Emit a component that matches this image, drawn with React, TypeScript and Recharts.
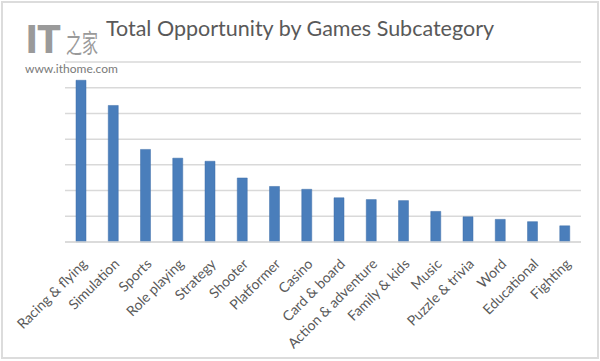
import React from 'react';
import { BarChart, Bar, XAxis, YAxis, CartesianGrid } from 'recharts';

const categories = [
  'Racing & flying',
  'Simulation',
  'Sports',
  'Role playing',
  'Strategy',
  'Shooter',
  'Platformer',
  'Casino',
  'Card & board',
  'Action & adventure',
  'Family & kids',
  'Music',
  'Puzzle & trivia',
  'Word',
  'Educational',
  'Fighting',
];

const opportunity = [6.29, 5.31, 3.6, 3.26, 3.14, 2.49, 2.16, 2.05, 1.72, 1.65, 1.61, 1.19, 0.98, 0.88, 0.79, 0.63];

const yTicks = [0, 1, 2, 3, 4, 5, 6, 7];

const data = categories.map((name, i) => ({ name, value: opportunity[i] }));

const FONT = 'Lato, "Open Sans", sans-serif';

const SlantTick = (props: any) => {
  const { x, y, payload } = props;
  return (
    <g transform={`translate(${x + 4},${y + 12}) rotate(-45)`}>
      <text textAnchor="end" fontSize={14} fill="#595959" fontFamily={FONT} dy={4}>
        {payload.value}
      </text>
    </g>
  );
};

export default function App() {
  return (
    <div style={{ position: 'relative', width: 600, height: 361, background: '#fff', fontFamily: FONT }}>
      <style>{`body{margin:0}`}</style>
      <div
        style={{
          position: 'absolute',
          left: 1,
          top: 1,
          width: 594,
          height: 354,
          border: '2px solid #dcdcdc',
        }}
      />
      <div
        style={{
          position: 'absolute',
          left: 0,
          width: 600,
          top: 15,
          textAlign: 'center',
          fontSize: 21.5,
          color: '#595959',
        }}
      >
        Total Opportunity by Games Subcategory
      </div>
      <div
        style={{
          position: 'absolute',
          left: 26,
          top: 21,
          color: '#9a9a9a',
          lineHeight: 1,
          whiteSpace: 'nowrap',
          display: 'flex',
          alignItems: 'center',
        }}
      >
        <span style={{ fontSize: 38, fontWeight: 900, fontFamily: 'Roboto, sans-serif' }}>IT</span>
        <span
          style={{
            fontSize: 16,
            fontFamily: '"Noto Sans CJK SC", sans-serif',
            marginLeft: 5,
            display: 'inline-block',
            transform: 'scaleY(1.6)',
            marginTop: 4,
          }}
        >
          之家
        </span>
      </div>
      <div style={{ position: 'absolute', left: 25, top: 61, fontSize: 12, color: '#7a7a7a' }}>www.ithome.com</div>
      <div style={{ position: 'absolute', left: 0, top: 0 }}>
        <BarChart width={600} height={361} data={data} margin={{ top: 62, right: 19, bottom: 0, left: 65 }}>
          <CartesianGrid vertical={false} stroke="#d9d9d9" strokeWidth={1.5} />
          <YAxis hide domain={[0, 7]} ticks={yTicks} />
          <XAxis
            dataKey="name"
            interval={0}
            tickLine={false}
            axisLine={{ stroke: '#d9d9d9', strokeWidth: 1.5 }}
            tick={<SlantTick />}
            height={119}
          />
          <Bar dataKey="value" fill="#4a7ebb" stroke="#3f6fa8" strokeWidth={0.5} barSize={10} isAnimationActive={false} />
        </BarChart>
      </div>
    </div>
  );
}
